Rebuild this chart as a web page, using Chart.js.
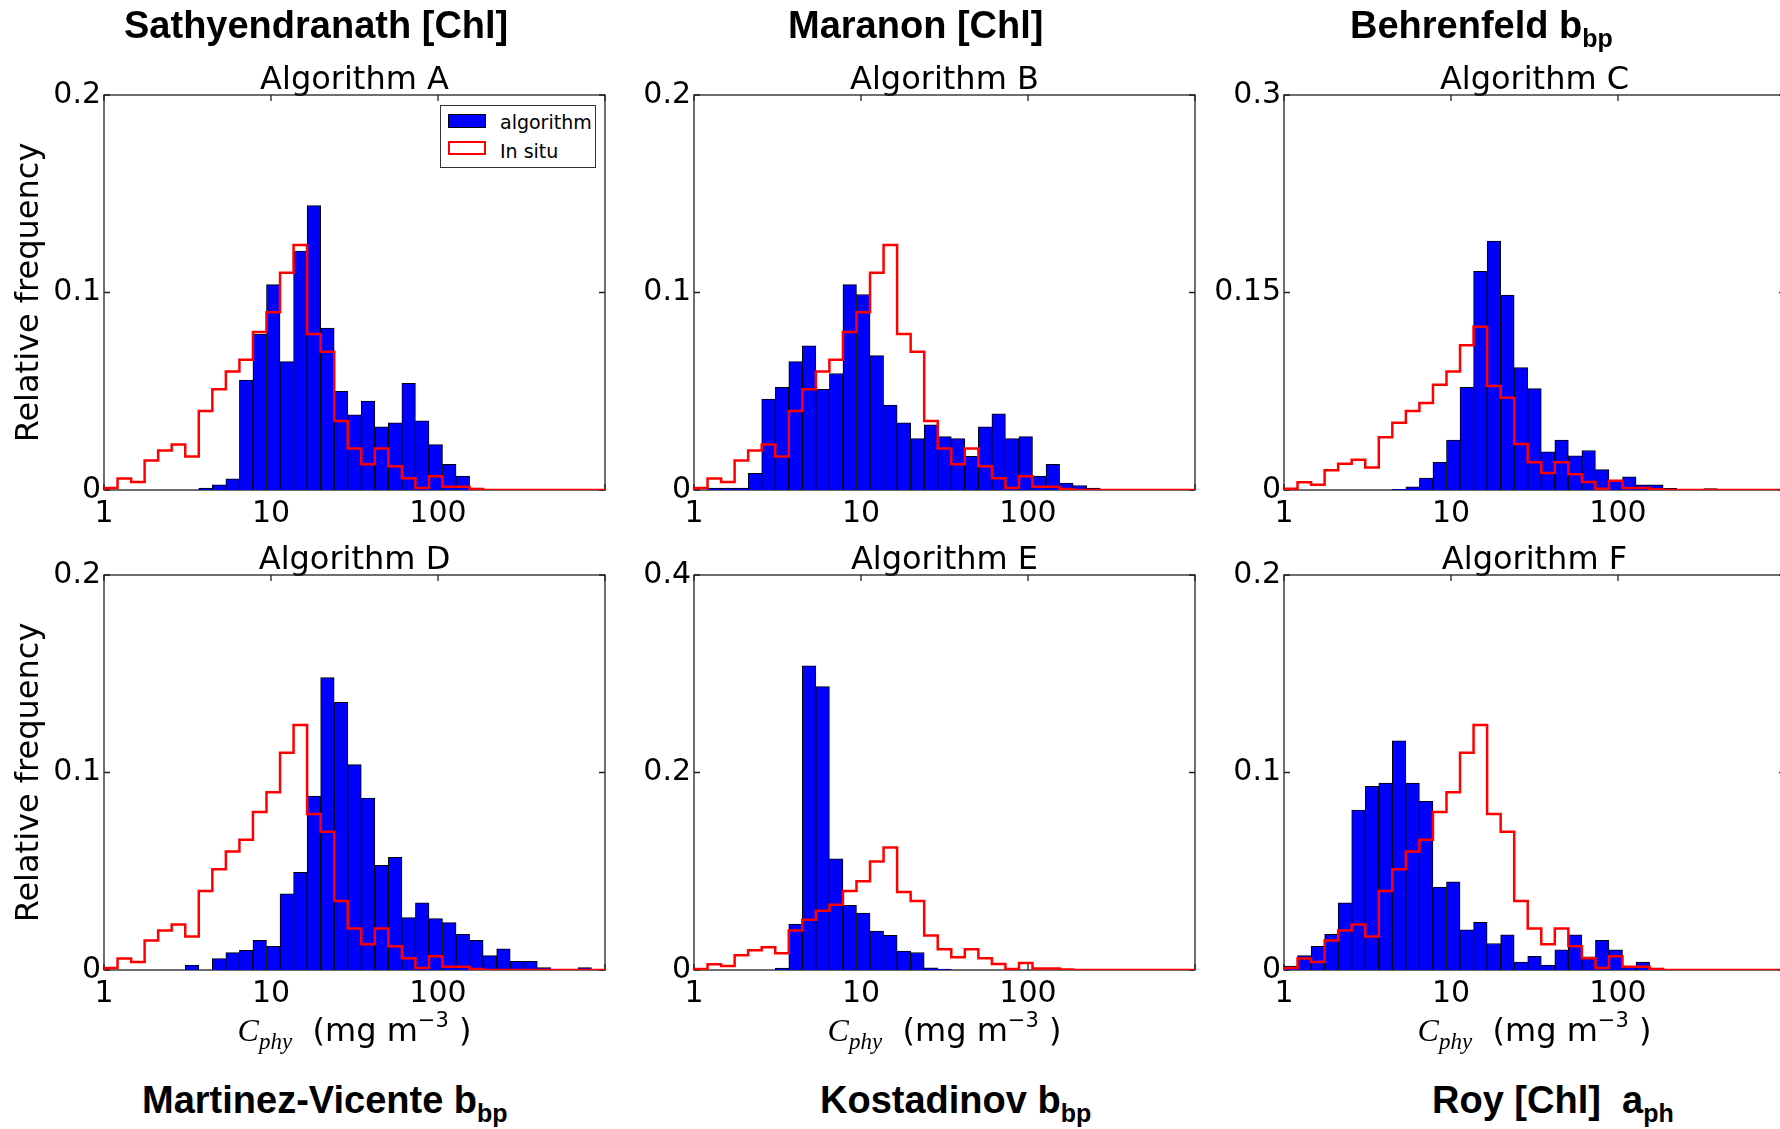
<!DOCTYPE html>
<html>
<head>
<meta charset="utf-8">
<script src="https://cdn.jsdelivr.net/npm/chart.js@4.4.1/dist/chart.umd.min.js"></script>
<style>
  body { margin: 0; width: 1780px; height: 1129px; background: #fff; overflow: hidden; position: relative; font-family: "DejaVu Sans", sans-serif; color: #000; }
  canvas { position: absolute; }
  .head { position: absolute; z-index: 2; font: bold 38px "Liberation Sans", Arial, sans-serif; line-height: 38px; white-space: nowrap; }
  .head sub { font-size: 25px; line-height: 0; vertical-align: -9px; }
  .xlab { position: absolute; z-index: 2; width: 501px; text-align: center; font-size: 32px; line-height: 40px; white-space: nowrap; }
  .xlab .cm { font-family: "Liberation Serif", serif; font-style: italic; }
  .xlab sub { font-size: 23px; line-height: 0; vertical-align: -8px; }
  .xlab sup { font-size: 21px; line-height: 0; vertical-align: 14px; }
  .legend { position: absolute; z-index: 2; left: 440px; top: 105px; width: 156px; height: 63px; box-sizing: border-box; border: 1.5px solid #333; background: #fff; font-size: 19px; }
  .legend span { position: absolute; }
  .legend .t { left: 59px; line-height: 22px; white-space: nowrap; }
  .sw-blue { left: 7px; top: 8px; width: 36px; height: 12px; background: #0000ff; border: 1px solid #000; }
  .sw-red { left: 7px; top: 35px; width: 34px; height: 10px; border: 2px solid #ff0000; }
</style>
</head>
<body>

<div class="head" style="left:124px; top:6px;">Sathyendranath [Chl]</div>
<div class="head" style="left:788px; top:6px;">Maranon [Chl]</div>
<div class="head" style="left:1350px; top:6px;">Behrenfeld b<sub>bp</sub></div>
<div class="head" style="left:142px; top:1081px;">Martinez-Vicente b<sub>bp</sub></div>
<div class="head" style="left:820px; top:1081px;">Kostadinov b<sub>bp</sub></div>
<div class="head" style="left:1432px; top:1081px;">Roy [Chl]&nbsp;&nbsp;a<sub>ph</sub></div>

<div class="xlab" style="left:104px; top:1010px;"><span class="cm">C</span><sub class="cm">phy</sub>&nbsp;&nbsp;(mg m<sup>−3</sup>&nbsp;)</div>
<div class="xlab" style="left:694px; top:1010px;"><span class="cm">C</span><sub class="cm">phy</sub>&nbsp;&nbsp;(mg m<sup>−3</sup>&nbsp;)</div>
<div class="xlab" style="left:1284px; top:1010px;"><span class="cm">C</span><sub class="cm">phy</sub>&nbsp;&nbsp;(mg m<sup>−3</sup>&nbsp;)</div>

<div class="legend">
  <span class="sw-blue"></span><span class="t" style="top:5px;">algorithm</span>
  <span class="sw-red"></span><span class="t" style="top:34px;">In situ</span>
</div>

<script>
// 37 log-spaced bins between 1 and 1000 mg m-3
const binCount = 37;
const xTickValues = [1, 10, 100, 1000];

// in situ relative frequency (same reference data in every panel)
const inSitu = [0.001, 0.0058, 0.004, 0.015, 0.020, 0.023, 0.017, 0.040, 0.051, 0.060,
  0.066, 0.080, 0.090, 0.110, 0.124, 0.079, 0.070, 0.035, 0.021, 0.013,
  0.021, 0.012, 0.006, 0.001, 0.007, 0.0016, 0.0016, 0.0005, 0, 0,
  0, 0, 0, 0, 0, 0, 0];

// algorithm relative frequency, per panel
const algA = [0, 0, 0, 0, 0, 0, 0, 0.001, 0.0026, 0.0056,
  0.0556, 0.079, 0.104, 0.065, 0.121, 0.144, 0.082, 0.050, 0.038, 0.045,
  0.032, 0.034, 0.054, 0.035, 0.023, 0.013, 0.007, 0.001, 0, 0,
  0, 0, 0, 0, 0, 0, 0];
const algB = [0, 0.001, 0.001, 0.001, 0.0084, 0.046, 0.052, 0.065, 0.073, 0.051,
  0.059, 0.104, 0.099, 0.068, 0.043, 0.034, 0.026, 0.033, 0.027, 0.026,
  0.017, 0.032, 0.0386, 0.026, 0.027, 0.007, 0.013, 0.0035, 0.0023, 0.001,
  0, 0, 0, 0, 0, 0, 0];
const algC = [0, 0, 0, 0, 0, 0, 0, 0, 0.0005, 0.0024,
  0.009, 0.021, 0.038, 0.078, 0.166, 0.189, 0.148, 0.093, 0.077, 0.029,
  0.038, 0.026, 0.030, 0.0155, 0.0076, 0.010, 0.004, 0.004, 0.0013, 0,
  0, 0.001, 0, 0, 0, 0, 0];
const algD = [0, 0, 0, 0, 0, 0, 0.0025, 0, 0.0058, 0.0088,
  0.010, 0.015, 0.012, 0.0386, 0.0495, 0.088, 0.148, 0.1355, 0.104, 0.087,
  0.053, 0.057, 0.0265, 0.034, 0.026, 0.024, 0.018, 0.015, 0.0073, 0.0107,
  0.0044, 0.0044, 0.0012, 0, 0, 0.0012, 0];
const algE = [0, 0, 0, 0, 0, 0, 0.002, 0.0464, 0.308, 0.287,
  0.1125, 0.0656, 0.0576, 0.0395, 0.035, 0.0192, 0.0177, 0.0023, 0.001, 0,
  0, 0, 0, 0, 0, 0, 0, 0, 0, 0,
  0, 0, 0, 0, 0, 0, 0];
const algF = [0.002, 0.0073, 0.012, 0.018, 0.034, 0.081, 0.093, 0.0946, 0.116, 0.0946,
  0.0854, 0.042, 0.0447, 0.0203, 0.0242, 0.0134, 0.0178, 0.004, 0.0069, 0.0025,
  0.0102, 0.0178, 0.0067, 0.015, 0.0102, 0.0015, 0.004, 0.001, 0, 0,
  0, 0, 0, 0, 0, 0, 0];

const yTicksA = [0, 0.1, 0.2];
const yTicksB = [0, 0.1, 0.2];
const yTicksC = [0, 0.15, 0.3];
const yTicksD = [0, 0.1, 0.2];
const yTicksE = [0, 0.2, 0.4];
const yTicksF = [0, 0.1, 0.2];

const panelTitles = ['Algorithm A', 'Algorithm B', 'Algorithm C', 'Algorithm D', 'Algorithm E', 'Algorithm F'];

const panels = [
  { title: panelTitles[0], alg: algA, yTicks: yTicksA, left: 0, top: 35, yLabel: true },
  { title: panelTitles[1], alg: algB, yTicks: yTicksB, left: 590, top: 35, yLabel: false },
  { title: panelTitles[2], alg: algC, yTicks: yTicksC, left: 1180, top: 35, yLabel: false },
  { title: panelTitles[3], alg: algD, yTicks: yTicksD, left: 0, top: 515, yLabel: true },
  { title: panelTitles[4], alg: algE, yTicks: yTicksE, left: 590, top: 515, yLabel: false },
  { title: panelTitles[5], alg: algF, yTicks: yTicksF, left: 1180, top: 515, yLabel: false }
];

const binEdge = k => Math.pow(10, 3 * k / binCount);
const tickFont = { family: 'DejaVu Sans', size: 30 };

// box round the plot with matplotlib-like inward ticks
const framePlugin = {
  id: 'frame',
  beforeDatasetsDraw(chart) {
    const { ctx, chartArea: a, scales } = chart;
    ctx.save();
    ctx.strokeStyle = '#222';
    ctx.lineWidth = 1.3;
    ctx.strokeRect(a.left, a.top, a.right - a.left, a.bottom - a.top);
    ctx.beginPath();
    xTickValues.forEach(v => {
      const px = scales.x.getPixelForValue(v);
      ctx.moveTo(px, a.bottom); ctx.lineTo(px, a.bottom - 6);
      ctx.moveTo(px, a.top); ctx.lineTo(px, a.top + 6);
    });
    scales.y.ticks.forEach(t => {
      const py = scales.y.getPixelForValue(t.value);
      ctx.moveTo(a.left, py); ctx.lineTo(a.left + 6, py);
      ctx.moveTo(a.right, py); ctx.lineTo(a.right - 6, py);
    });
    ctx.stroke();
    ctx.restore();
  }
};

Chart.defaults.color = '#000';
Chart.defaults.font.family = 'DejaVu Sans';

function makePanel(p) {
  const canvas = document.createElement('canvas');
  canvas.width = 615;
  canvas.height = 515;
  canvas.style.left = p.left + 'px';
  canvas.style.top = p.top + 'px';
  document.body.appendChild(canvas);

  const bars = p.alg.map((v, k) => ({
    x: Math.sqrt(binEdge(k) * binEdge(k + 1)),
    y: v > 0 ? v : null
  }));

  // step outline of the in situ histogram
  const step = [{ x: binEdge(0), y: 0 }];
  inSitu.forEach((v, k) => step.push({ x: binEdge(k), y: v }));
  step.push({ x: binEdge(binCount), y: 0 });

  new Chart(canvas, {
    type: 'bar',
    data: {
      datasets: [
        {
          type: 'line',
          label: 'In situ',
          data: step,
          borderColor: '#ff0000',
          borderWidth: 2.5,
          pointRadius: 0,
          stepped: true,
          fill: false,
          order: 0
        },
        {
          type: 'bar',
          label: 'algorithm',
          data: bars,
          backgroundColor: '#0000ff',
          borderColor: '#000000',
          borderWidth: 1,
          barPercentage: 1,
          categoryPercentage: 1,
          order: 1
        }
      ]
    },
    options: {
      responsive: false,
      animation: false,
      layout: { padding: { left: 0, right: 10, top: 0, bottom: 0 } },
      plugins: {
        legend: { display: false },
        tooltip: { enabled: false },
        title: {
          display: true,
          text: p.title,
          fullSize: false,
          color: '#000',
          font: { family: 'DejaVu Sans', size: 32, weight: 'normal', lineHeight: '20px' },
          padding: { top: 36, bottom: 4 }
        }
      },
      scales: {
        x: {
          type: 'logarithmic',
          min: 1,
          max: 1000,
          offset: false,
          grid: { display: false, drawTicks: false, offset: false },
          border: { display: false },
          afterBuildTicks: s => { s.ticks = xTickValues.map(v => ({ value: v })); },
          afterFit: s => { s.height = 60; },
          ticks: {
            autoSkip: false,
            maxRotation: 0,
            padding: 6,
            font: tickFont,
            color: '#000',
            callback: v => (v === 1000 ? '' : String(v))
          }
        },
        y: {
          type: 'linear',
          min: 0,
          max: p.yTicks[p.yTicks.length - 1],
          grid: { display: false, drawTicks: false },
          border: { display: false },
          afterBuildTicks: s => { s.ticks = p.yTicks.map(v => ({ value: v })); },
          afterFit: s => { s.width = 104; },
          ticks: { padding: 3, font: tickFont, color: '#000', callback: v => String(v) },
          title: {
            display: p.yLabel,
            text: 'Relative frequency',
            color: '#000',
            font: { family: 'DejaVu Sans', size: 32 },
            padding: { top: 10, bottom: 0 }
          }
        }
      }
    },
    plugins: [framePlugin]
  });
}

panels.forEach(makePanel);
</script>
</body>
</html>
